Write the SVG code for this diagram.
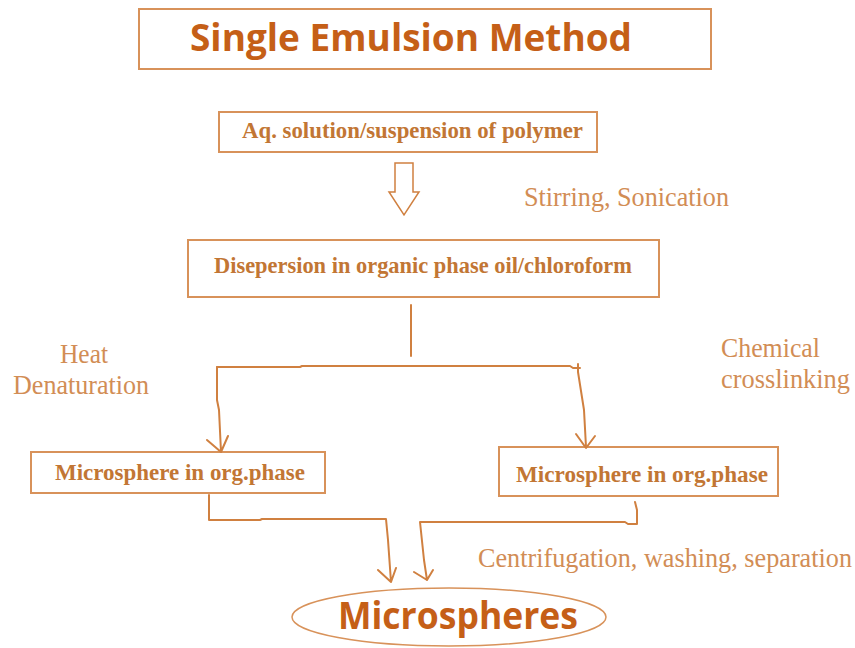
<svg xmlns="http://www.w3.org/2000/svg" width="855" height="648" viewBox="0 0 855 648">
<style>
.box{fill:#fff;stroke:#d8925a;stroke-width:2}
.bt{font-family:"Liberation Serif",serif;font-weight:bold;fill:#c27634;font-size:22.5px}
.lt{font-family:"Liberation Serif",serif;fill:#d28d55;font-size:26.5px}
.big{font-family:"Open Sans","Noto Sans",sans-serif;font-weight:bold;fill:#c55f17;font-size:37px}
.ln{fill:none;stroke:#d08040;stroke-width:2;stroke-linejoin:round;stroke-linecap:round}
</style>
<rect width="855" height="648" fill="#fff"/>
<g id="title">
<rect class="box" x="139" y="9" width="572" height="60"/>
<text class="big" x="190" y="51" textLength="442" lengthAdjust="spacingAndGlyphs">Single Emulsion Method</text>
</g>
<g id="aq">
<rect class="box" x="219" y="112" width="378" height="40"/>
<text class="bt" x="242" y="138" textLength="341" lengthAdjust="spacingAndGlyphs">Aq. solution/suspension of polymer</text>
</g>
<g id="dispersion">
<rect class="box" x="188" y="240" width="471" height="57"/>
<text class="bt" x="214" y="273" textLength="418" lengthAdjust="spacingAndGlyphs">Disepersion in organic phase oil/chloroform</text>
</g>
<g id="left-ms">
<rect class="box" x="31" y="452" width="294" height="41"/>
<text class="bt" x="55" y="480" textLength="250" lengthAdjust="spacingAndGlyphs">Microsphere in org.phase</text>
</g>
<g id="right-ms">
<rect class="box" x="499" y="447" width="279" height="49"/>
<text class="bt" x="516" y="482" textLength="252" lengthAdjust="spacingAndGlyphs">Microsphere in org.phase</text>
</g>
<g id="microspheres">
<ellipse cx="449" cy="617" rx="157" ry="29" fill="#fff" stroke="#d8925a" stroke-width="1.5"/>
<text class="big" x="338" y="629" textLength="240" lengthAdjust="spacingAndGlyphs">Microspheres</text>
</g>
<g id="labels">
<text class="lt" x="524" y="206" textLength="205" lengthAdjust="spacingAndGlyphs">Stirring, Sonication</text>
<text class="lt" x="60" y="363" textLength="48" lengthAdjust="spacingAndGlyphs">Heat</text>
<text class="lt" x="13" y="394" textLength="136" lengthAdjust="spacingAndGlyphs">Denaturation</text>
<text class="lt" x="721" y="357" textLength="99" lengthAdjust="spacingAndGlyphs">Chemical</text>
<text class="lt" x="721" y="388" textLength="129" lengthAdjust="spacingAndGlyphs">crosslinking</text>
<text class="lt" x="478" y="567" textLength="374" lengthAdjust="spacingAndGlyphs">Centrifugation, washing, separation</text>
</g>
<g id="connectors">
<path d="M395 163 H413 V192 H419 L404 215 L389 192 H395 Z" fill="#fff" stroke="#d08040" stroke-width="1.5" stroke-linejoin="miter"/>
<path class="ln" d="M411 305 V356"/>
<path class="ln" d="M217 367 H300 L302 366 H570 L573 368 H580 M578 364 V372 L584 410 L586 447"/>
<path class="ln" d="M217 367 V400 L219 410 L221 452 M207 440 L221 452 L228 436"/>
<path class="ln" d="M576 434 L586 448 L595 436"/>
<path class="ln" d="M209 495 V520 H260 L262 519 H386 L388 540 L391 582 M378 570 L391 582 L396 568"/>
<path class="ln" d="M635 502 L637 510 V524 H628 L625 522 H420 L424 560 L427 580 M414 572 L427 580 L433 570"/>
</g>
</svg>
